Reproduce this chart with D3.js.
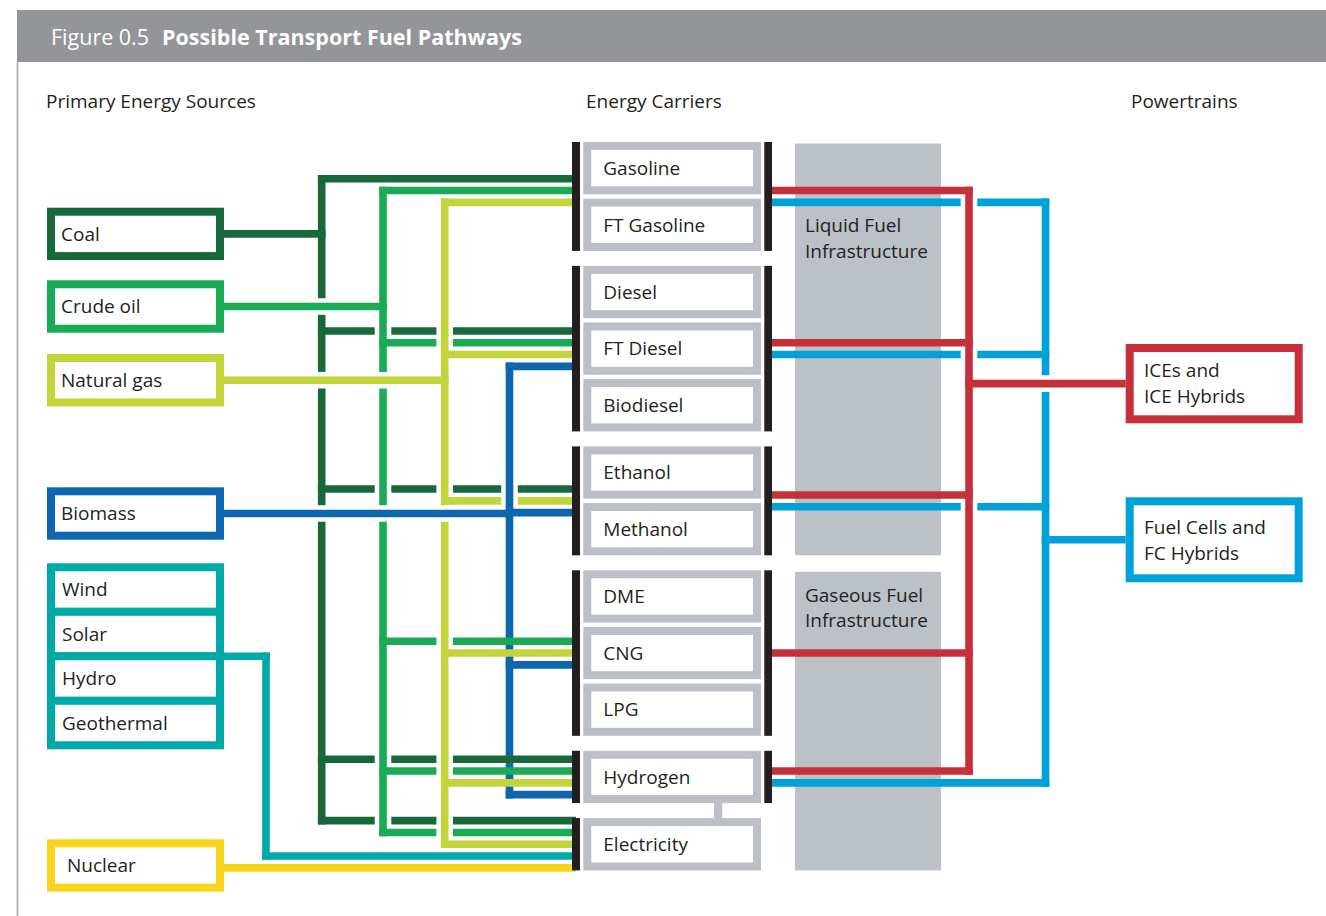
<!DOCTYPE html>
<html>
<head>
<meta charset="utf-8">
<script src="https://cdn.jsdelivr.net/npm/d3@7"></script>
<style>
  body { margin: 0; background: #fff; }
  svg { display: block; font-family: 'Open Sans', sans-serif; }
  .label { fill: #231f20; font-size: 19px; }
</style>
</head>
<body>
<svg id="chart" width="1326" height="916"></svg>
<script>
// ---- data ----
const figureNumber = 'Figure 0.5';
const figureTitle = 'Possible Transport Fuel Pathways';
const columnTitles = ['Primary Energy Sources', 'Energy Carriers', 'Powertrains'];

const sources = ['Coal', 'Crude oil', 'Natural gas', 'Biomass', 'Renewables', 'Nuclear'];
const renewableParts = ['Wind', 'Solar', 'Hydro', 'Geothermal'];

const carrierGroups = [
  ['Gasoline', 'FT Gasoline'],
  ['Diesel', 'FT Diesel', 'Biodiesel'],
  ['Ethanol', 'Methanol'],
  ['DME', 'CNG', 'LPG'],
  ['Hydrogen'],
  ['Electricity']
];
const infrastructures = [['Liquid Fuel', 'Infrastructure'], ['Gaseous Fuel', 'Infrastructure']];
const powertrains = [['ICEs and', 'ICE Hybrids'], ['Fuel Cells and', 'FC Hybrids']];

// source -> carrier ports it feeds
const coalTo = ['Gasoline', 'FT Diesel', 'Ethanol', 'Hydrogen', 'Electricity'];
const crudeOilTo = ['Gasoline', 'FT Diesel', 'CNG', 'Hydrogen', 'Electricity'];
const naturalGasTo = ['Gasoline', 'FT Diesel', 'Ethanol', 'CNG', 'Hydrogen', 'Electricity'];
const biomassTo = ['FT Diesel', 'Ethanol', 'CNG', 'Hydrogen'];
const renewablesTo = ['Electricity'];
const nuclearTo = ['Electricity'];

// carrier ports -> powertrains
const iceFrom = ['Gasoline', 'FT Diesel', 'Ethanol', 'CNG', 'Hydrogen'];
const fuelCellFrom = ['Gasoline', 'FT Diesel', 'Ethanol', 'Hydrogen'];

// ---- layout ----
const W = 1326, H = 916;
const lineW = 7.6, gap = 4.5, slotStep = 11.8;
const ink = '#231f20', boxGray = '#bcc0c6', infraGray = '#bcc0c7';

const sourceColor = d3.scaleOrdinal()
  .domain(sources)
  .range(['#17683a', '#19ab56', '#c2d63b', '#0c67b0', '#00aaa8', '#f9d41d']);
const powertrainColor = ['#c5303a', '#00a0d8'];

const sourceLinks = [coalTo, crudeOilTo, naturalGasTo, biomassTo, renewablesTo, nuclearTo];
const powertrainLinks = [iceFrom, fuelCellFrom];

const sourceBoxX = 51, sourceBoxW = 169, sourceBoxH = 44.4;
const sourceTop = [211.7, 284.3, 358, 491.3, 567.3, 843.3];
const trunkX = { 'Coal': 321.7, 'Crude oil': 383, 'Natural gas': 444.7, 'Biomass': 509.5, 'Renewables': 266 };
const renewRowH = 44.5;

const carrierBarL = 572, carrierBoxX = 587.3, carrierBoxW = 169.7, carrierBarR = 764.3;
const rowPitch = 56.6, groupExtra = 10.7, carrierH = 52.3;
const portSlots = { 'Gasoline': 4 };

const infraX = 795, infraW = 146;
const infraGroups = [[0, 2], [3, 5]];
const infraTextDy = [[88.7, 114.7], [29.7, 55.2]];

const ptTrunkX = [969, 1045.5];
const ptBoxX = 1129.7, ptBoxW = 169;
const ptTop = [348, 501.3], ptH = [71.3, 77];

const svg = d3.select('#chart');

// ---- header ----
svg.append('rect').attr('x', 17).attr('y', 10).attr('width', W - 17).attr('height', 52).attr('fill', '#939598');
svg.append('rect').attr('x', 16.5).attr('y', 62).attr('width', 2).attr('height', H - 62).attr('fill', '#b7b9bc');
const title = svg.append('text').attr('x', 51).attr('y', 44.5).attr('fill', '#fff').style('font-size', '21.5px');
title.append('tspan').text(figureNumber);
title.append('tspan').attr('dx', 13).style('font-weight', 'bold').text(figureTitle);

svg.selectAll('.col-title')
  .data(columnTitles)
  .enter().append('text')
  .attr('class', 'label col-title')
  .attr('x', (d, i) => [46, 586, 1131][i])
  .attr('y', 107.5)
  .text(d => d);

// ---- carrier positions ----
const carriers = carrierGroups.flat();
const yRow = d3.scaleLinear().domain([0, 1]).range([142, 142 + rowPitch]);
const carrierTop = {}, carrierGroup = {};
carriers.forEach((c, i) => {
  const g = carrierGroups.findIndex(grp => grp.includes(c));
  carrierGroup[c] = g;
  carrierTop[c] = yRow(i + g * groupExtra / rowPitch);
});
const groupTop = g => carrierTop[carrierGroups[g][0]];
const groupBottom = g => carrierTop[carrierGroups[g][carrierGroups[g].length - 1]] + carrierH;
const groupMid = g => (groupTop(g) + groupBottom(g)) / 2;

// ---- infrastructure bands ----
infraGroups.forEach((gr, i) => {
  const y0 = groupTop(gr[0]) + 1.5, y1 = groupBottom(gr[1]);
  svg.append('rect').attr('x', infraX).attr('y', y0).attr('width', infraW).attr('height', y1 - y0).attr('fill', infraGray);
  svg.selectAll(null)
    .data(infrastructures[i])
    .enter().append('text')
    .attr('class', 'label')
    .attr('x', infraX + 10)
    .attr('y', (d, j) => y0 + infraTextDy[i][j])
    .text(d => d);
});

// ---- line network ----
const trunks = [], hLines = [];

// inputs: slot y of each source at each port
const portInputs = {};
sources.forEach((s, i) => sourceLinks[i].forEach(p => { (portInputs[p] = portInputs[p] || []).push(s); }));
const inputY = (s, p) => {
  const list = portInputs[p];
  const n = Math.max(list.length, portSlots[p] || 0);
  return groupMid(carrierGroup[p]) + (list.indexOf(s) - (n - 1) / 2) * slotStep;
};
const sourceMidY = i => sources[i] === 'Renewables'
  ? sourceTop[i] - 4 + (renewRowH * renewableParts.length + 8) / 2
  : sourceTop[i] + sourceBoxH / 2;

let biomassY = 0;
sources.forEach((s, i) => {
  const col = sourceColor(s);
  const ys = sourceLinks[i].map(p => inputY(s, p));
  const x = trunkX[s];
  const sy = sourceMidY(i);
  if (x === undefined) {
    hLines.push({ id: s, y: ys[0], x1: sourceBoxX + sourceBoxW + 4, x2: carrierBarL + 4, color: col, over: true });
    return;
  }
  if (s === 'Biomass') biomassY = sy;
  const all = ys.concat([sy]);
  trunks.push({ id: s, x, y1: d3.min(all) - lineW / 2, y2: d3.max(all) + lineW / 2, color: col, cuts: [] });
  hLines.push({ id: s, y: sy, x1: sourceBoxX + sourceBoxW + 4, x2: x + lineW / 2, color: col, over: true });
  ys.forEach(y => hLines.push({ id: s, y, x1: x - lineW / 2, x2: carrierBarL + 4, color: col, over: false }));
});

// outputs to powertrains
const portOutputs = {};
powertrains.forEach((p, i) => powertrainLinks[i].forEach(c => { (portOutputs[c] = portOutputs[c] || []).push(i); }));
const outputY = (i, c) => {
  const list = portOutputs[c];
  return groupMid(carrierGroup[c]) + (list.indexOf(i) - (list.length - 1) / 2) * slotStep;
};
powertrains.forEach((p, i) => {
  const col = powertrainColor[i];
  const ys = powertrainLinks[i].map(c => outputY(i, c));
  const x = ptTrunkX[i];
  const by = ptTop[i] + ptH[i] / 2;
  const all = ys.concat([by]);
  trunks.push({ id: 'pt' + i, x, y1: d3.min(all) - lineW / 2, y2: d3.max(all) + lineW / 2, color: col, cuts: [] });
  hLines.push({ id: 'pt' + i, y: by, x1: x - lineW / 2, x2: ptBoxX - 4, color: col, over: true });
  ys.forEach(y => hLines.push({ id: 'pt' + i, y, x1: carrierBarR + 4, x2: x + lineW / 2, color: col, over: false }));
});

// crossings: lines that pass under get a white gap
hLines.forEach(h => {
  h.cuts = [];
  trunks.forEach(t => {
    if (t.id === h.id) return;
    if (t.x - lineW / 2 <= h.x1 || t.x + lineW / 2 >= h.x2) return;
    if (h.y + lineW / 2 <= t.y1 || h.y - lineW / 2 >= t.y2) return;
    if (h.over) t.cuts.push([h.y - lineW / 2 - gap, h.y + lineW / 2 + gap]);
    else if (!(t.id === 'Biomass' && h.y > biomassY)) h.cuts.push([t.x - lineW / 2 - gap, t.x + lineW / 2 + gap]);
  });
});

function split(a, b, cuts) {
  const out = [];
  let start = a;
  cuts.slice().sort((p, q) => p[0] - q[0]).forEach(([c0, c1]) => {
    if (c0 > start) out.push([start, Math.min(c0, b)]);
    start = Math.max(start, c1);
  });
  if (start < b) out.push([start, b]);
  return out;
}

const lineG = svg.append('g');
trunks.forEach(t => split(t.y1, t.y2, t.cuts).forEach(([a, b]) => {
  lineG.append('line').attr('x1', t.x).attr('x2', t.x).attr('y1', a).attr('y2', b)
    .attr('stroke', t.color).attr('stroke-width', lineW);
}));
hLines.forEach(h => split(h.x1, h.x2, h.cuts).forEach(([a, b]) => {
  lineG.append('line').attr('x1', a).attr('x2', b).attr('y1', h.y).attr('y2', h.y)
    .attr('stroke', h.color).attr('stroke-width', lineW);
}));

// ---- carriers ----
svg.append('rect')
  .attr('x', carrierBoxX + carrierBoxW * 0.77 - 4).attr('y', groupBottom(4) - 1)
  .attr('width', 8.3).attr('height', groupTop(5) - groupBottom(4) + 2)
  .attr('fill', boxGray);

svg.selectAll('.carrier')
  .data(carriers)
  .enter().append('rect')
  .attr('class', 'carrier')
  .attr('x', carrierBoxX)
  .attr('y', d => carrierTop[d] + 4)
  .attr('width', carrierBoxW)
  .attr('height', carrierH - 8)
  .attr('fill', '#fff')
  .attr('stroke', boxGray)
  .attr('stroke-width', 8);

svg.selectAll('.carrier-label')
  .data(carriers)
  .enter().append('text')
  .attr('class', 'label carrier-label')
  .attr('x', carrierBoxX + 16)
  .attr('y', d => carrierTop[d] + carrierH / 2)
  .attr('dy', '0.36em')
  .text(d => d);

carrierGroups.forEach((grp, g) => {
  svg.append('rect').attr('x', carrierBarL).attr('y', groupTop(g)).attr('width', 8)
    .attr('height', groupBottom(g) - groupTop(g)).attr('fill', ink);
  if (grp[0] !== 'Electricity') {
    svg.append('rect').attr('x', carrierBarR).attr('y', groupTop(g)).attr('width', 7.7)
      .attr('height', groupBottom(g) - groupTop(g)).attr('fill', ink);
  }
});

// ---- sources ----
sources.forEach((s, i) => {
  const col = sourceColor(s);
  if (s === 'Renewables') {
    renewableParts.forEach((r, j) => {
      const y = sourceTop[i] + j * renewRowH;
      svg.append('rect').attr('x', sourceBoxX).attr('y', y).attr('width', sourceBoxW).attr('height', renewRowH)
        .attr('fill', '#fff').attr('stroke', col).attr('stroke-width', 8);
    });
    renewableParts.forEach((r, j) => {
      svg.append('text').attr('class', 'label').attr('x', 62)
        .attr('y', sourceTop[i] + j * renewRowH + renewRowH / 2).attr('dy', '0.36em').text(r);
    });
    return;
  }
  svg.append('rect').attr('x', sourceBoxX).attr('y', sourceTop[i]).attr('width', sourceBoxW).attr('height', sourceBoxH)
    .attr('fill', '#fff').attr('stroke', col).attr('stroke-width', 8);
  svg.append('text').attr('class', 'label').attr('x', s === 'Nuclear' ? 67 : 61)
    .attr('y', sourceTop[i] + sourceBoxH / 2).attr('dy', '0.36em').text(s);
});

// ---- powertrains ----
powertrains.forEach((p, i) => {
  svg.append('rect').attr('x', ptBoxX).attr('y', ptTop[i]).attr('width', ptBoxW).attr('height', ptH[i])
    .attr('fill', '#fff').attr('stroke', powertrainColor[i]).attr('stroke-width', 8);
  svg.selectAll(null)
    .data(p)
    .enter().append('text')
    .attr('class', 'label')
    .attr('x', ptBoxX + 14.3)
    .attr('y', (d, j) => ptTop[i] + ptH[i] / 2 + (j - 0.5) * 26)
    .attr('dy', '0.36em')
    .text(d => d);
});
</script>
</body>
</html>
